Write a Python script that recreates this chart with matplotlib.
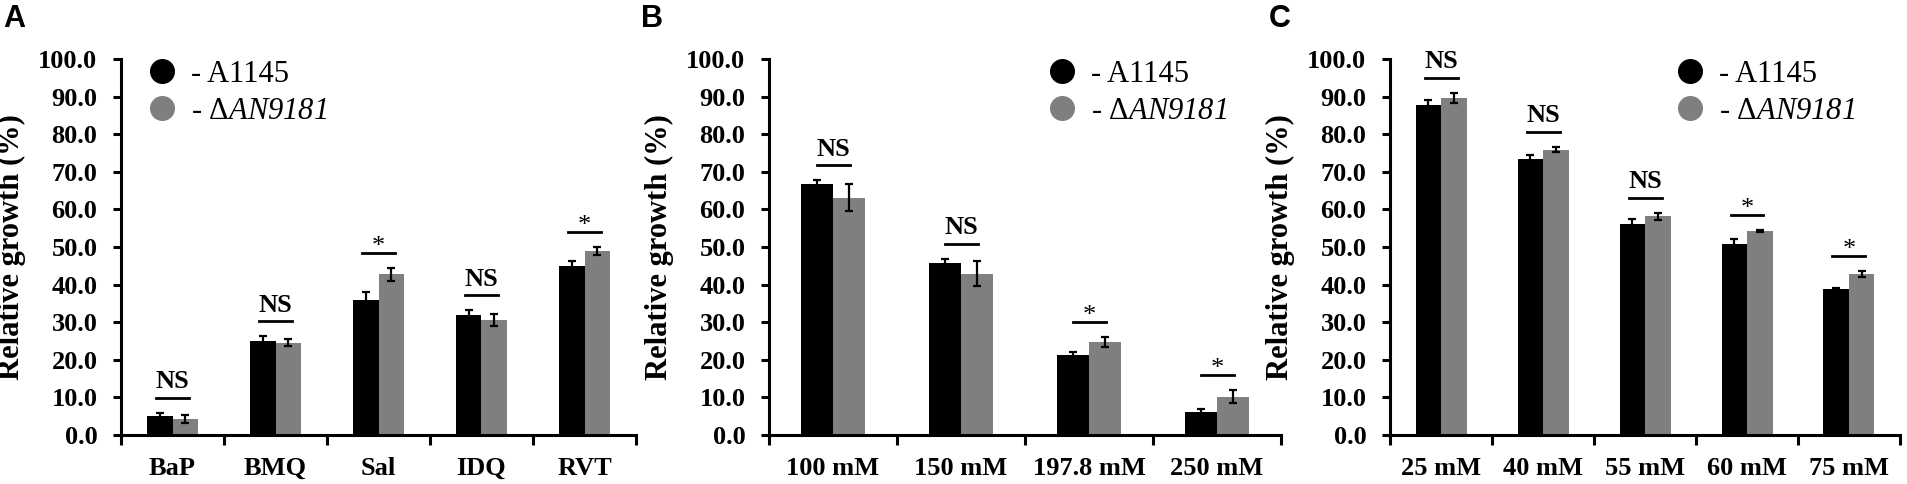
import matplotlib
matplotlib.use('Agg')
import matplotlib.pyplot as plt
from matplotlib.lines import Line2D
import numpy as np

plt.rcParams['font.family'] = ['Liberation Serif', 'DejaVu Serif']
# le texte en mode math sert seulement au nom de gène, donc tout en italique
plt.rcParams['mathtext.fontset'] = 'custom'
plt.rcParams['mathtext.rm'] = 'Liberation Serif:italic'
plt.rcParams['mathtext.it'] = 'Liberation Serif:italic'

# Panel A : composés
cats_a = ['BaP', 'BMQ', 'Sal', 'IDQ', 'RVT']
a_wt = [5.0, 25.0, 36.0, 31.9, 44.9]
a_wt_err = [0.9, 1.3, 2.1, 1.3, 1.5]
a_mut = [4.2, 24.6, 42.7, 30.7, 49.0]
a_mut_err = [1.1, 1.0, 1.7, 1.6, 1.0]
a_sig = ['NS', 'NS', '*', 'NS', '*']

# Panel B
cats_b = ['100 mM', '150 mM', '197.8 mM', '250 mM']
b_wt = [66.8, 45.8, 21.2, 6.2]
b_wt_err = [0.9, 1.1, 0.9, 0.6]
b_mut = [63.1, 42.9, 24.8, 10.2]
b_mut_err = [3.6, 3.3, 1.3, 1.7]
b_sig = ['NS', 'NS', '*', '*']

# Panel C
cats_c = ['25 mM', '40 mM', '55 mM', '60 mM', '75 mM']
c_wt = [87.8, 73.5, 56.2, 50.9, 38.7]
c_wt_err = [1.3, 1.1, 1.3, 1.1, 0.3]
c_mut = [89.6, 75.9, 58.2, 54.2, 42.9]
c_mut_err = [1.4, 0.7, 0.9, 0.3, 0.8]
c_sig = ['NS', 'NS', 'NS', '*', '*']

black = '#000000'
grey = '#7f7f7f'
W, H = 1907, 484

fig = plt.figure(figsize=(W / 100, H / 100), dpi=100)


def panel(rect, cats, wt, wt_err, mut, mut_err, sig, leg_x, letter, letter_x):
    ax = fig.add_axes(rect)
    n = len(cats)
    x = np.arange(n)
    bw = 0.25
    ax.bar(x - bw / 2, wt, bw, color=black, zorder=2)
    ax.bar(x + bw / 2, mut, bw, color=grey, zorder=2)
    ek = dict(fmt='none', ecolor='black', elinewidth=1.6, capsize=3, capthick=1.6, zorder=3)
    ax.errorbar(x - bw / 2, wt, yerr=wt_err, **ek)
    ax.errorbar(x + bw / 2, mut, yerr=mut_err, **ek)

    # barres de significativité
    cat_px = rect[2] * W / n
    half = 16.5 / cat_px
    for i in range(n):
        top = max(wt[i] + wt_err[i], mut[i] + mut_err[i]) + 4
        ax.plot([x[i] - half, x[i] + half], [top, top], color='black', lw=2, zorder=3)
        if sig[i] == 'NS':
            ax.text(x[i], top + 1.2, 'NS', ha='center', va='bottom', fontsize=19, fontweight='bold')
        else:
            ax.text(x[i], top - 1.3, '*', ha='center', va='bottom', fontsize=19)

    ax.set_xlim(-0.5, n - 0.5)
    ax.set_ylim(0, 100)
    ax.set_yticks(np.arange(0, 101, 10))
    ax.set_yticklabels(['%.1f' % v for v in np.arange(0, 101, 10)])
    ax.set_xticks(x)
    ax.set_xticklabels(cats)
    ax.set_xticks(np.arange(n + 1) - 0.5, minor=True)
    ax.tick_params(axis='x', which='major', length=0, pad=16)
    ax.tick_params(axis='x', which='minor', length=7, width=2.2, direction='out')
    ax.tick_params(axis='y', length=6, width=2.2, direction='out', pad=11)
    for lab in ax.get_xticklabels() + ax.get_yticklabels():
        lab.set_fontsize(19)
        lab.set_fontweight('bold')
    for s in ['top', 'right']:
        ax.spines[s].set_visible(False)
    for s in ['left', 'bottom']:
        ax.spines[s].set_linewidth(2.2)
    ax.set_ylabel('Relative growth (%)', fontsize=22, fontweight='bold', labelpad=8.5)

    handles = [Line2D([], [], marker='o', ls='', ms=17, color=black),
               Line2D([], [], marker='o', ls='', ms=17, color=grey)]
    ax.legend(handles, ['- A1145', r'- Δ$\mathrm{AN9181}$'], loc='upper left',
              bbox_to_anchor=(leg_x, 1.03), frameon=False, fontsize=22,
              handletextpad=0.45, labelspacing=0.25, handlelength=1.0, borderaxespad=0)
    fig.text(letter_x / W, 1 - 4 / H, letter, ha='left', va='top', fontsize=22,
             fontweight='bold', family='Liberation Sans')
    return ax


bottom = 1 - 435 / H
height = 376 / H
panel([121 / W, bottom, 515 / W, height], cats_a, a_wt, a_wt_err, a_mut, a_mut_err, a_sig,
      0.026, 'A', 3)
panel([769 / W, bottom, 512 / W, height], cats_b, b_wt, b_wt_err, b_mut, b_mut_err, b_sig,
      0.518, 'B', 641)
panel([1390 / W, bottom, 510 / W, height], cats_c, c_wt, c_wt_err, c_mut, c_mut_err, c_sig,
      0.535, 'C', 1269)

fig.savefig('out.png', dpi=100)
